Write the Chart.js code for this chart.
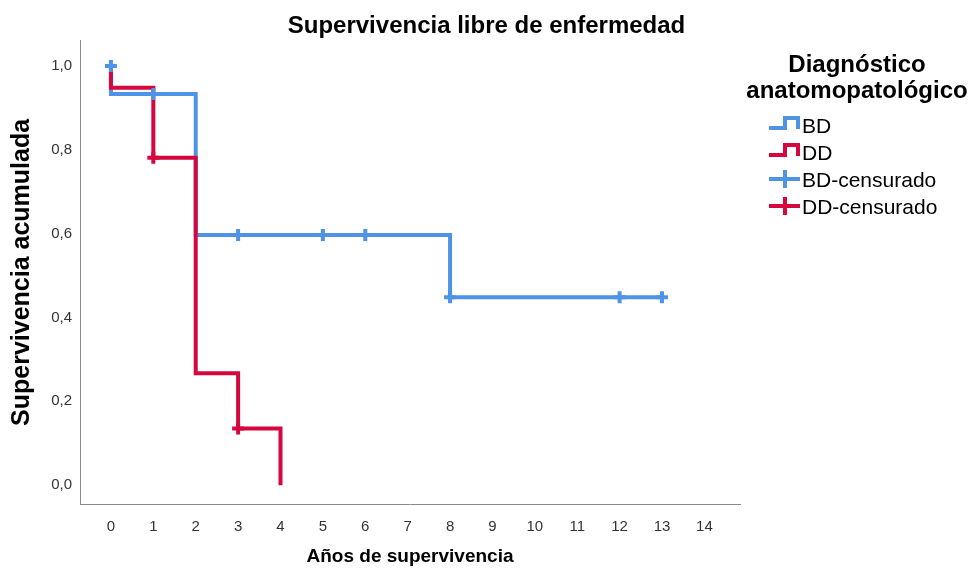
<!DOCTYPE html>
<html lang="es">
<head>
  <meta charset="UTF-8" />
  <title>Supervivencia libre de enfermedad</title>
  <style>
    html, body {
      margin: 0;
      padding: 0;
      background: #ffffff;
    }
    #kmChart {
      display: block;
    }
  </style>
</head>
<body>

<canvas id="kmChart" width="973" height="569"></canvas>

<script src="https://cdn.jsdelivr.net/npm/chart.js"></script>
<script>
  // Values
  const xTicks = [0, 1, 2, 3, 4, 5, 6, 7, 8, 9, 10, 11, 12, 13, 14];
  const yTicks = [0, 0.2, 0.4, 0.6, 0.8, 1.0];

  // BD curve (time, cumulative survival after the step)
  const bdTimes = [0, 0, 2, 8, 13];
  const bdSurv = [1.0, 0.933, 0.597, 0.448, 0.448];
  const bdCensTimes = [0, 1, 3, 5, 6, 8, 12, 13];
  const bdCensSurv = [1.0, 0.933, 0.597, 0.597, 0.597, 0.448, 0.448, 0.448];

  // DD curve
  const ddTimes = [0, 0, 1, 2, 3, 4];
  const ddSurv = [1.0, 0.948, 0.781, 0.267, 0.135, 0.0];
  const ddCensTimes = [1, 3];
  const ddCensSurv = [0.781, 0.135];

  const seriesLabels = ['BD', 'DD', 'BD-censurado', 'DD-censurado'];
  const legendTitle = ['Diagnóstico', 'anatomopatológico'];

  const BLUE = '#4f93e6';
  const RED = '#d6073f';
  const FONT = "'Liberation Sans', Arial, sans-serif";

  const toPoints = (xs, ys) => xs.map((x, i) => ({ x: x, y: ys[i] }));

  // SPSS style legend on the right, drawn on the canvas
  const kmLegend = {
    id: 'kmLegend',
    afterDraw(chart) {
      const ctx = chart.ctx;
      const iconX = 769;
      const textX = 802;
      const rows = [127, 154, 181, 208];
      ctx.save();
      ctx.fillStyle = '#000';
      ctx.textAlign = 'center';
      ctx.textBaseline = 'middle';
      ctx.font = 'bold 24px ' + FONT;
      ctx.fillText(legendTitle[0], 857, 65);
      ctx.fillText(legendTitle[1], 857, 91);

      ctx.lineWidth = 4;
      ctx.lineCap = 'butt';
      ctx.lineJoin = 'miter';
      chart.data.datasets.forEach((ds, i) => {
        const y = rows[i];
        ctx.strokeStyle = ds.borderColor;
        ctx.beginPath();
        if (ds.showLine) {
          // little step icon
          ctx.moveTo(iconX, y + 1);
          ctx.lineTo(iconX + 16, y + 1);
          ctx.lineTo(iconX + 16, y - 9);
          ctx.lineTo(iconX + 29, y - 9);
          ctx.lineTo(iconX + 29, y + 2);
        } else {
          // censoring cross
          ctx.moveTo(iconX, y - 2);
          ctx.lineTo(iconX + 31, y - 2);
          ctx.moveTo(iconX + 16, y - 11);
          ctx.lineTo(iconX + 16, y + 7);
        }
        ctx.stroke();
        ctx.fillStyle = '#000';
        ctx.textAlign = 'left';
        ctx.font = '21px ' + FONT;
        ctx.fillText(ds.label, textX, y);
      });
      ctx.restore();
    }
  };

  const ctx = document.getElementById('kmChart').getContext('2d');
  const kmChart = new Chart(ctx, {
    type: 'line',
    data: {
      datasets: [
        {
          label: seriesLabels[0],
          data: toPoints(bdTimes, bdSurv),
          borderColor: BLUE,
          borderWidth: 4,
          stepped: 'before',
          pointRadius: 0,
          fill: false,
          showLine: true,
          order: 3
        },
        {
          label: seriesLabels[1],
          data: toPoints(ddTimes, ddSurv),
          borderColor: RED,
          borderWidth: 4,
          stepped: 'before',
          pointRadius: 0,
          fill: false,
          showLine: true,
          order: 2
        },
        {
          label: seriesLabels[2],
          data: toPoints(bdCensTimes, bdCensSurv),
          borderColor: BLUE,
          backgroundColor: BLUE,
          showLine: false,
          pointStyle: 'cross',
          pointRadius: 6,
          pointBorderWidth: 4,
          pointHoverRadius: 7,
          order: 1
        },
        {
          label: seriesLabels[3],
          data: toPoints(ddCensTimes, ddCensSurv),
          borderColor: RED,
          backgroundColor: RED,
          showLine: false,
          pointStyle: 'cross',
          pointRadius: 6,
          pointBorderWidth: 4,
          pointHoverRadius: 7,
          order: 0
        }
      ]
    },
    options: {
      responsive: false,
      animation: false,
      layout: {
        padding: 0
      },
      scales: {
        x: {
          type: 'linear',
          min: -0.73,
          max: 14.84,
          afterBuildTicks: scale => {
            scale.ticks = xTicks.map(v => ({ value: v }));
          },
          afterFit: scale => {
            scale.height = 65;
          },
          grid: { display: false, drawTicks: false },
          border: { display: true, color: '#8a8a8a', width: 1 },
          ticks: {
            autoSkip: false,
            maxRotation: 0,
            padding: 14,
            color: '#333',
            font: { family: FONT, size: 15 },
            callback: v => String(v)
          },
          title: {
            display: true,
            text: 'Años de supervivencia',
            color: '#000',
            font: { family: FONT, size: 19, weight: 'bold' },
            padding: { top: 0, bottom: 1 }
          }
        },
        y: {
          type: 'linear',
          min: -0.045,
          max: 1.06,
          afterBuildTicks: scale => {
            scale.ticks = yTicks.map(v => ({ value: v }));
          },
          afterFit: scale => {
            scale.width = 80;
          },
          grid: { display: false, drawTicks: false },
          border: { display: true, color: '#8a8a8a', width: 1 },
          ticks: {
            padding: 8,
            color: '#333',
            font: { family: FONT, size: 15 },
            callback: v => v.toFixed(1).replace('.', ',')
          },
          title: {
            display: true,
            text: 'Supervivencia acumulada',
            color: '#000',
            font: { family: FONT, size: 25, weight: 'bold' },
            padding: { top: 7, bottom: 0 }
          }
        },
        // empty band on the right that keeps room for the legend
        legendSpace: {
          type: 'linear',
          position: 'right',
          afterFit: scale => {
            scale.width = 233;
          },
          grid: { display: false, drawTicks: false },
          border: { display: false },
          ticks: { display: false }
        }
      },
      plugins: {
        legend: { display: false },
        title: {
          display: true,
          text: 'Supervivencia libre de enfermedad',
          color: '#000',
          font: { family: FONT, size: 24, weight: 'bold' },
          padding: { top: 12, bottom: 0 }
        }
      }
    },
    plugins: [kmLegend]
  });
</script>

</body>
</html>
